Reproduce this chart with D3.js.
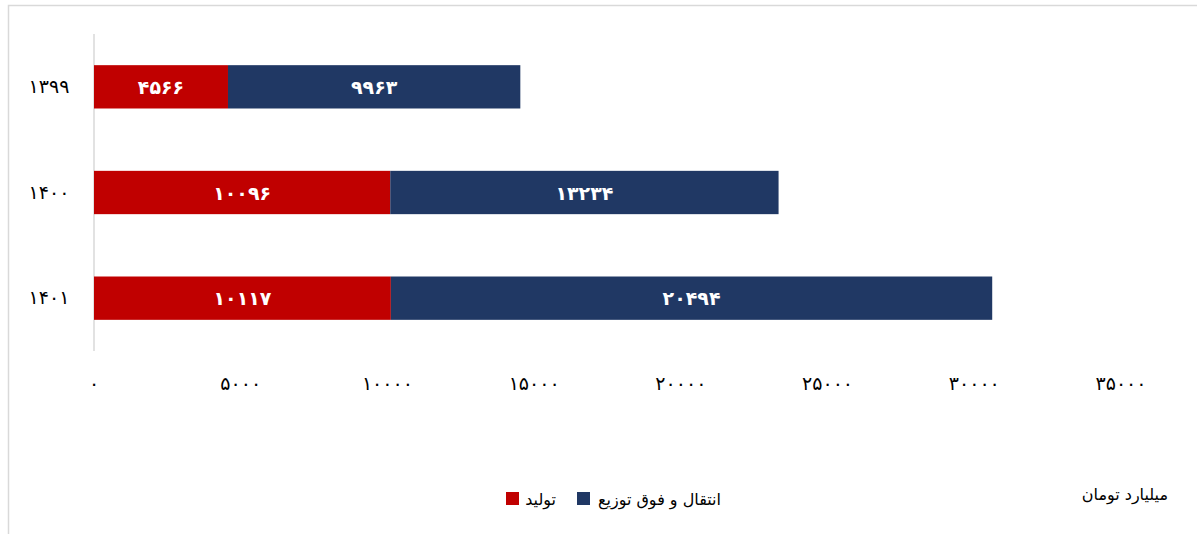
<!DOCTYPE html>
<html>
<head>
<meta charset="utf-8">
<script src="https://cdn.jsdelivr.net/npm/d3@7/dist/d3.min.js"></script>
<style>
  html, body { margin: 0; padding: 0; background: #fff; }
  svg { display: block; font-family: "DejaVu Sans", "Noto Sans", sans-serif; }
</style>
</head>
<body>
<svg id="chart" width="1197" height="534"></svg>
<script>
const years = ["1399", "1400", "1401"];
const production = [4566, 10096, 10117];
const transmission = [9963, 13234, 20494];
const xTicks = [0, 5000, 10000, 15000, 20000, 25000, 30000, 35000];
const seriesNames = ["تولید", "انتقال و فوق توزیع"];
const seriesColors = ["#C00000", "#203864"];
const unitLabel = "میلیارد تومان";

const fa = s => String(s).replace(/[0-9]/g, d => "۰۱۲۳۴۵۶۷۸۹"[+d]);

const svg = d3.select("#chart");

// outer border
svg.append("rect").attr("x", 8.5).attr("y", 5.5).attr("width", 1200).attr("height", 540)
  .attr("fill", "none").attr("stroke", "#d9d9d9").attr("stroke-width", 1.5);

const x = d3.scaleLinear().domain([0, 35000]).range([94, 1121]);
const y = d3.scaleBand().domain(years).range([34, 351]).paddingInner(0.59).paddingOuter(0.295);

// category axis line
svg.append("line").attr("x1", 94).attr("x2", 94).attr("y1", 34).attr("y2", 351)
  .attr("stroke", "#d9d9d9").attr("stroke-width", 1.5);

// x tick labels
svg.append("g").selectAll("text").data(xTicks).join("text")
  .attr("x", d => x(d)).attr("y", 390)
  .attr("text-anchor", "middle").attr("font-size", 19).attr("fill", "#000")
  .text(d => fa(d));

// y labels
svg.append("g").selectAll("text").data(years).join("text")
  .attr("x", 49).attr("y", d => y(d) + y.bandwidth() / 2 + 6)
  .attr("text-anchor", "middle").attr("font-size", 19).attr("fill", "#000")
  .text(d => fa(d));

const rows = years.map((yr, i) => ({ yr, a: production[i], b: transmission[i] }));

const g = svg.append("g");
rows.forEach(r => {
  const segs = [
    { x0: 0, x1: r.a, v: r.a, c: seriesColors[0] },
    { x0: r.a, x1: r.a + r.b, v: r.b, c: seriesColors[1] }
  ];
  segs.forEach(s => {
    g.append("rect")
      .attr("x", x(s.x0)).attr("y", y(r.yr))
      .attr("width", x(s.x1) - x(s.x0)).attr("height", y.bandwidth())
      .attr("fill", s.c);
    g.append("text")
      .attr("x", (x(s.x0) + x(s.x1)) / 2).attr("y", y(r.yr) + y.bandwidth() / 2 + 7)
      .attr("text-anchor", "middle").attr("font-size", 19).attr("font-weight", "bold")
      .attr("fill", "#fff").text(fa(s.v));
  });
});

// legend
const legend = svg.append("g");
const items = [
  { name: seriesNames[1], color: seriesColors[1], sx: 577, tx: 721 },
  { name: seriesNames[0], color: seriesColors[0], sx: 506, tx: 556 }
];
items.forEach(it => {
  legend.append("rect").attr("x", it.sx).attr("y", 492).attr("width", 13).attr("height", 13).attr("fill", it.color);
  legend.append("text").attr("x", it.tx).attr("y", 505).attr("text-anchor", "end")
    .attr("font-size", 16).attr("fill", "#000").text(it.name);
});

svg.append("text").attr("x", 1168).attr("y", 500).attr("text-anchor", "end")
  .attr("font-size", 16).attr("fill", "#000").text(unitLabel);
</script>
</body>
</html>
